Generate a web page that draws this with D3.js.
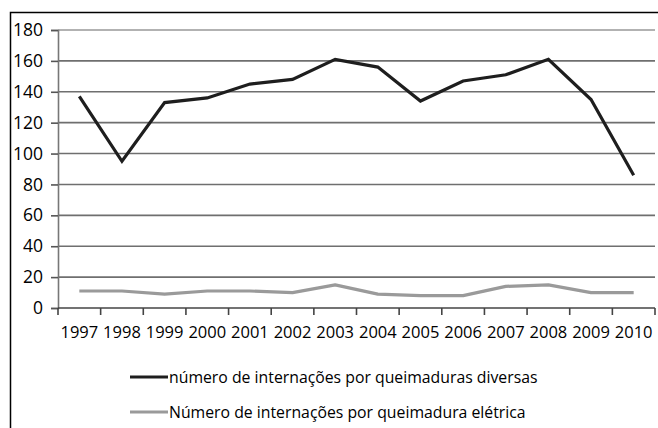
<!DOCTYPE html>
<html>
<head>
<meta charset="utf-8">
<script src="https://cdn.jsdelivr.net/npm/d3@7"></script>
<style>
  body { margin: 0; background: #fff; }
  svg { display: block; font-family: "Open Sans", sans-serif; }
</style>
</head>
<body>
<svg id="chart"></svg>
<script>
"use strict";

// data
var years = ["1997", "1998", "1999", "2000", "2001", "2002", "2003",
             "2004", "2005", "2006", "2007", "2008", "2009", "2010"];
var diversas = [137, 95, 133, 136, 145, 148, 161, 156, 134, 147, 151, 161, 135, 86];
var eletrica = [11, 11, 9, 11, 11, 10, 15, 9, 8, 8, 14, 15, 10, 10];
var yTicks = [0, 20, 40, 60, 80, 100, 120, 140, 160, 180];
var seriesNames = ["número de internações por queimaduras diversas",
                   "Número de internações por queimadura elétrica"];

var width = 658
  , height = 428
  , plotLeft = 58
  , plotRight = 655
  , plotTop = 30
  , plotBottom = 308;

var svg = d3.select("#chart")
  .attr("width", width)
  .attr("height", height);

// outer frame (right and bottom edges fall outside the picture)
svg.append("path")
  .attr("d", "M10.5," + height + "V12.5H" + (width + 2))
  .attr("fill", "none")
  .attr("stroke", "#000")
  .attr("stroke-width", 1.5);

var x = d3.scaleBand().domain(years).range([plotLeft, plotRight]).padding(0);
var y = d3.scaleLinear().domain([0, 180]).range([plotBottom, plotTop]);

// gridlines
svg.append("g")
  .selectAll("line")
  .data(yTicks.filter(function (d) { return d > 0; }))
  .enter()
  .append("line")
  .attr("x1", plotLeft)
  .attr("x2", plotRight)
  .attr("y1", function (d) { return y(d); })
  .attr("y2", function (d) { return y(d); })
  .attr("stroke", function (d) { return d === 180 ? "#999" : "#6f6f6f"; })
  .attr("stroke-width", 1.6);

// y axis
var yAxis = svg.append("g")
  .attr("transform", "translate(" + plotLeft + ",0)")
  .call(d3.axisLeft(y).tickValues(yTicks).tickSize(7).tickPadding(8));
yAxis.select(".domain").attr("stroke", "#777").attr("stroke-width", 1.6);
yAxis.selectAll(".tick line").attr("stroke", "#555").attr("stroke-width", 1.6);
yAxis.selectAll("text")
  .attr("fill", "#000")
  .style("font-size", "17.5px")
  .style("font-family", "'Open Sans', sans-serif");

// x axis: labels at band centres, ticks at band edges
var xAxis = svg.append("g")
  .attr("transform", "translate(0," + plotBottom + ")")
  .call(d3.axisBottom(x).tickSize(0).tickPadding(18));
xAxis.select(".domain").remove();
xAxis.selectAll("text")
  .attr("fill", "#000")
  .style("font-size", "16.5px")
  .style("font-family", "'Open Sans', sans-serif");

svg.append("line")
  .attr("x1", plotLeft)
  .attr("x2", plotRight)
  .attr("y1", plotBottom)
  .attr("y2", plotBottom)
  .attr("stroke", "#444")
  .attr("stroke-width", 1.6);

var edges = years.map(function (d) { return x(d); }).concat([plotRight]);
svg.append("g")
  .selectAll("line")
  .data(edges)
  .enter()
  .append("line")
  .attr("x1", function (d) { return d; })
  .attr("x2", function (d) { return d; })
  .attr("y1", plotBottom)
  .attr("y2", plotBottom + 7)
  .attr("stroke", "#444")
  .attr("stroke-width", 1.6);

var cx = function (d, i) { return x(years[i]) + x.bandwidth() / 2; };
var line = d3.line()
  .x(cx)
  .y(function (d) { return y(d); });

svg.append("path")
  .datum(eletrica)
  .attr("d", line)
  .attr("fill", "none")
  .attr("stroke", "#9a9a9a")
  .attr("stroke-width", 3.2)
  .attr("stroke-linejoin", "round");

svg.append("path")
  .datum(diversas)
  .attr("d", line)
  .attr("fill", "none")
  .attr("stroke", "#1e1e1e")
  .attr("stroke-width", 3.2)
  .attr("stroke-linejoin", "miter");

// legend
var legendColors = ["#1e1e1e", "#9a9a9a"];
var legendY = [377, 412];
var legend = svg.append("g");
seriesNames.forEach(function (name, i) {
  legend.append("line")
    .attr("x1", 130)
    .attr("x2", 168)
    .attr("y1", legendY[i])
    .attr("y2", legendY[i])
    .attr("stroke", legendColors[i])
    .attr("stroke-width", 3.2);
  legend.append("text")
    .attr("x", 169)
    .attr("y", legendY[i])
    .attr("dy", "0.35em")
    .attr("fill", "#000")
    .style("font-size", "15.8px")
    .text(name);
});
</script>
</body>
</html>
